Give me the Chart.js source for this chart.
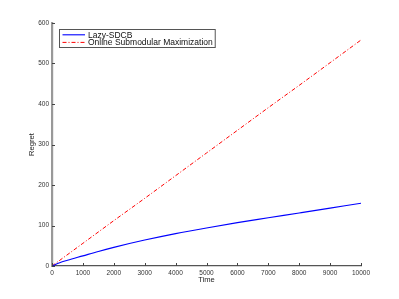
<!DOCTYPE html>
<html>
<head>
<meta charset="utf-8">
<script src="https://cdn.jsdelivr.net/npm/chart.js@4"></script>
<style>
  html, body { margin: 0; padding: 0; background: #fff; }
  #wrap { width: 399px; height: 299px; }
</style>
</head>
<body>
<div id="wrap"><canvas id="regretChart" width="399" height="299"></canvas></div>
<script>
// values
const lazyTime = [0, 250, 500, 1000, 1500, 2000, 3000, 4000, 5000, 6000, 7000, 8000, 9000, 10000];
const lazyRegret = [0, 8, 14, 25, 36, 46, 64, 80, 94, 107, 119, 131, 143, 155];
const onlineTime = [0, 1000, 2000, 3000, 4000, 5000, 6000, 7000, 8000, 9000, 10000];
const onlineRegret = [0, 56, 112, 167, 223, 279, 335, 391, 446, 502, 558];
const xTicks = [0, 1000, 2000, 3000, 4000, 5000, 6000, 7000, 8000, 9000, 10000];
const yTicks = [0, 100, 200, 300, 400, 500, 600];
const seriesNames = ['Lazy-SDCB', 'Online Submodular Maximization'];

const fontFamily = '"Liberation Sans", Arial, Helvetica, sans-serif';

function toPoints(xs, ys) {
    return xs.map((x, i) => ({ x: x, y: ys[i] }));
}

// MATLAB style ticks pointing into the plot
const insideTicks = {
    id: 'insideTicks',
    afterDatasetsDraw(chart) {
        const ctx = chart.ctx;
        const area = chart.chartArea;
        const xs = chart.scales.x, ys = chart.scales.y;
        ctx.save();
        ctx.strokeStyle = '#444';
        ctx.lineWidth = 1;
        ctx.beginPath();
        xTicks.forEach(v => {
            const px = Math.round(xs.getPixelForValue(v)) + 0.5;
            ctx.moveTo(px, area.bottom);
            ctx.lineTo(px, area.bottom - 3);
        });
        yTicks.forEach(v => {
            const py = Math.round(ys.getPixelForValue(v)) + 0.5;
            ctx.moveTo(area.left, py);
            ctx.lineTo(area.left + 3, py);
        });
        ctx.stroke();
        ctx.restore();
    }
};

// boxed legend in the upper left corner of the axes
const boxLegend = {
    id: 'boxLegend',
    afterDraw(chart) {
        const ctx = chart.ctx;
        const area = chart.chartArea;
        const x0 = area.left + 7.5, y0 = area.top + 6.5;
        const rowH = 7.6;
        ctx.save();
        ctx.font = '8.5px ' + fontFamily;
        let maxW = 0;
        chart.data.datasets.forEach(ds => { maxW = Math.max(maxW, ctx.measureText(ds.label).width); });
        const w = 28 + maxW + 3, h = 18;
        ctx.fillStyle = '#fff';
        ctx.fillRect(x0, y0, w, h);
        ctx.strokeStyle = '#555';
        ctx.lineWidth = 1;
        ctx.strokeRect(x0, y0, w, h);
        chart.data.datasets.forEach((ds, i) => {
            const cy = y0 + 5.3 + i * rowH;
            ctx.strokeStyle = ds.borderColor;
            ctx.lineWidth = ds.borderWidth;
            ctx.setLineDash(ds.borderDash || []);
            ctx.beginPath();
            ctx.moveTo(x0 + 3, cy);
            ctx.lineTo(x0 + 25.5, cy);
            ctx.stroke();
            ctx.setLineDash([]);
            ctx.fillStyle = '#111';
            ctx.textBaseline = 'middle';
            ctx.fillText(ds.label, x0 + 28.5, cy + 0.5);
        });
        ctx.restore();
    }
};

const ctx = document.getElementById('regretChart').getContext('2d');
const regretChart = new Chart(ctx, {
    type: 'line',
    data: {
        datasets: [{
            label: seriesNames[0],
            data: toPoints(lazyTime, lazyRegret),
            borderColor: '#0000ff',
            borderWidth: 1.1,
            pointRadius: 0,
            cubicInterpolationMode: 'monotone',
            fill: false
        }, {
            label: seriesNames[1],
            data: toPoints(onlineTime, onlineRegret),
            borderColor: '#ff0000',
            borderWidth: 1,
            borderDash: [4, 2, 1, 2],
            pointRadius: 0,
            fill: false
        }]
    },
    options: {
        responsive: false,
        animation: false,
        layout: { padding: { top: 23, right: 38, left: 0, bottom: 0 } },
        plugins: {
            legend: { display: false },
            tooltip: { enabled: false }
        },
        scales: {
            x: {
                type: 'linear',
                min: 0,
                max: 10000,
                afterBuildTicks: axis => { axis.ticks = xTicks.map(v => ({ value: v })); },
                afterFit: axis => { axis.height = 33; },
                grid: { display: false, drawTicks: false },
                border: { display: true, color: '#555', width: 1.2 },
                ticks: {
                    padding: 3,
                    maxRotation: 0,
                    color: '#333',
                    font: { family: fontFamily, size: 6.5 },
                    callback: v => String(v)
                },
                title: {
                    display: true,
                    text: 'Time',
                    color: '#222',
                    padding: { top: 0, bottom: 14.5 },
                    font: { family: fontFamily, size: 7.6 }
                }
            },
            y: {
                type: 'linear',
                min: 0,
                max: 600,
                afterBuildTicks: axis => { axis.ticks = yTicks.map(v => ({ value: v })); },
                afterFit: axis => { axis.width = 52; },
                grid: { display: false, drawTicks: false },
                border: { display: true, color: '#999', width: 2.2 },
                ticks: {
                    padding: 3,
                    color: '#333',
                    font: { family: fontFamily, size: 6.5 },
                    callback: v => String(v)
                },
                title: {
                    display: true,
                    text: 'Regret',
                    color: '#222',
                    padding: { top: 27.5, bottom: 0 },
                    font: { family: fontFamily, size: 7.6 }
                }
            }
        }
    },
    plugins: [insideTicks, boxLegend]
});
</script>
</body>
</html>
